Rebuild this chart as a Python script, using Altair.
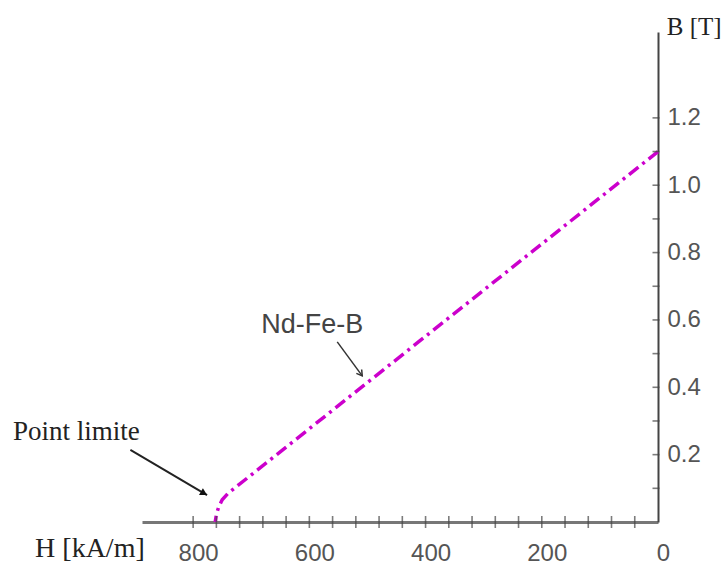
import altair as alt
import pandas as pd

# Demagnetization curve (Nd-Fe-B), H in kA/m (axis reversed), B in T
H_curve = [0, 740, 750, 756, 760, 762]
B_curve = [1.1, 0.085, 0.066, 0.045, 0.022, 0.0]

x_label_values = [0, 200, 400, 600, 800]
y_label_values = [0.2, 0.4, 0.6, 0.8, 1.0, 1.2]
x_tick_values = [40, 80, 120, 160, 200, 240, 280, 320, 360, 400, 440, 480,
                 520, 560, 600, 640, 680, 720, 760, 800]
y_tick_values = [0.1, 0.2, 0.3, 0.4, 0.5, 0.6, 0.7, 0.8, 0.9, 1.0, 1.1, 1.2]

# annotation texts and their anchor positions (data units)
serif_texts = ["Point limite", "H [kA/m]", "B [T]"]
serif_H = [1110, 1072, -15]
serif_B = [0.2435, -0.104, 1.446]
serif_sizes = [27, 28, 25]

sans_texts = ["Nd-Fe-B"]
sans_H = [595]
sans_B = [0.561]

# arrow "Point limite" (filled head) and arrow "Nd-Fe-B" (open head)
arrow1_H = [908, 776]
arrow1_B = [0.214, 0.08]
arrow2_H = [552, 509]
arrow2_B = [0.535, 0.434]

X_DOMAIN = [0, 888]
Y_DOMAIN = [0, 1.455]

curve = pd.DataFrame({"H": H_curve, "B": B_curve, "o": list(range(len(H_curve)))})
xt = pd.DataFrame({"H": x_tick_values, "B": [0.0] * len(x_tick_values)})
yt = pd.DataFrame({"B": y_tick_values, "H": [0.0] * len(y_tick_values)})
st = pd.DataFrame({"t": serif_texts, "H": serif_H, "B": serif_B, "s": serif_sizes})
nt = pd.DataFrame({"t": sans_texts, "H": sans_H, "B": sans_B})
a1 = pd.DataFrame({"H": arrow1_H, "B": arrow1_B, "o": [0, 1]})
a2 = pd.DataFrame({"H": arrow2_H, "B": arrow2_B, "o": [0, 1]})

xscale = alt.Scale(domain=X_DOMAIN, reverse=True, nice=False, zero=False)
yscale = alt.Scale(domain=Y_DOMAIN, nice=False, zero=False)

xaxis = alt.Axis(values=x_label_values, ticks=False, grid=False, title=None,
                 labelFont="Liberation Sans", labelFontSize=24, labelColor="#555555",
                 labelPadding=19, labelOffset=5, labelFlush=False, labelOverlap=False,
                 domainColor="#777777", domainWidth=3)
yaxis = alt.Axis(values=y_label_values, orient="right", ticks=False, grid=False, title=None,
                 format=".1f", labelFont="Liberation Sans", labelFontSize=24,
                 labelColor="#555555", labelPadding=9, labelFlush=False, labelOverlap=False,
                 domainColor="#444444", domainWidth=2)

X = alt.X("H:Q", scale=xscale, axis=xaxis)
Y = alt.Y("B:Q", scale=yscale, axis=yaxis)

line = alt.Chart(curve).mark_line(
    color="#cc00cc", strokeWidth=3.5, strokeDash=[12, 5, 3, 5]
).encode(x=X, y=Y, order="o:Q")

xticks = alt.Chart(xt).mark_tick(orient="vertical", size=12, thickness=1.6,
                                 color="#444444").encode(x=X, y=Y)
yticks = alt.Chart(yt).mark_tick(orient="horizontal", size=7, thickness=1.6,
                                 color="#444444", xOffset=-2).encode(x=X, y=Y)

serif = alt.Chart(st).mark_text(font="Liberation Serif", align="left", baseline="alphabetic",
                                color="#222222").encode(
    x=X, y=Y, text="t:N", size=alt.Size("s:Q", scale=None, legend=None),
)
sans = alt.Chart(nt).mark_text(font="Liberation Sans", fontSize=27, align="center",
                               baseline="alphabetic", color="#444444").encode(
    x=X, y=Y, text="t:N"
)

arrow1 = alt.Chart(a1).mark_line(color="#222222", strokeWidth=2).encode(x=X, y=Y, order="o:Q")
head1 = alt.Chart(a1.iloc[[1]]).mark_point(
    shape="M0,0L-1,-0.55L-1,0.55Z", filled=True, color="#111111", size=200, angle=30, opacity=1
).encode(x=X, y=Y)

arrow2 = alt.Chart(a2).mark_line(color="#333333", strokeWidth=1.5).encode(x=X, y=Y, order="o:Q")
head2 = alt.Chart(a2.iloc[[1]]).mark_point(
    shape="M-1,-0.6L0,0L-1,0.6", filled=False, color="#333333", size=120, angle=54,
    strokeWidth=1.5, opacity=1
).encode(x=X, y=Y)

chart = alt.layer(line, xticks, yticks, arrow1, head1, arrow2, head2, serif, sans).properties(
    width=516, height=490,
    padding={"left": 142, "top": 32, "right": 64, "bottom": 44},
    autosize=alt.AutoSizeParams(type="none"),
    background="white",
).configure_view(stroke=None)

chart.save("out.html", embed_options={"renderer": "svg", "actions": False})
